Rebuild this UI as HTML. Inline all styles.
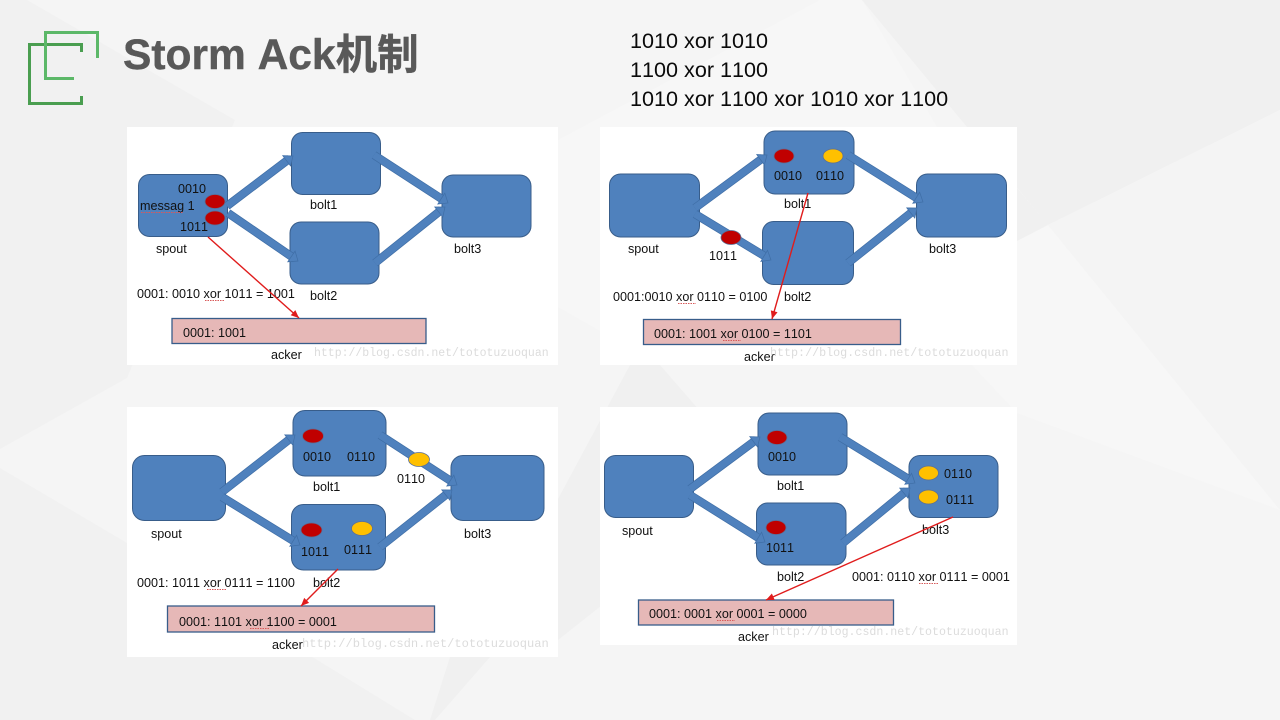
<!DOCTYPE html>
<html><head><meta charset="utf-8"><title>Storm Ack机制</title>
<style>
html,body{margin:0;padding:0;width:1280px;height:720px;overflow:hidden;background:#f5f5f5}
svg{display:block}
svg text{font-kerning:none}
.d{filter:blur(.3px)}
.d text{font:12.6px "Liberation Sans",sans-serif;fill:#111;font-kerning:none}
.d rect.n{fill:#4f81bd;stroke:#385d8a;stroke-width:1}
.d rect.a{fill:#e6b8b7;stroke:#385d8a;stroke-width:1.3}
.d .r{fill:#c00000;stroke:#5b6f96;stroke-width:.8}
.d .y{fill:#ffc000;stroke:#5b6f96;stroke-width:.8}
.d .o{stroke:#3f6ea6;stroke-width:8.4;stroke-dasharray:95 100}
.d .b{stroke:#4f81bd;stroke-width:7;stroke-dasharray:95 100;marker-end:url(#h)}
.d .l{stroke:#e01c1c;stroke-width:1.4;fill:none;marker-end:url(#rh)}
.d .s{stroke:#d85a5a;stroke-width:1;stroke-dasharray:1.5 1;fill:none}
.d text.w{font:11.600px "Liberation Mono",monospace;fill:#dcdcdc}
</style></head><body>
<svg width="1280" height="720" viewBox="0 0 1280 720" xmlns="http://www.w3.org/2000/svg">
<defs>
<marker id="h" markerUnits="userSpaceOnUse" markerWidth="20" markerHeight="20" refX="10" refY="10" orient="auto" overflow="visible">
<polygon points="2,3.500 10,10 2,16.500" fill="#4f81bd" stroke="#3f6ea6" stroke-width=".7"/>
</marker>
<marker id="rh" markerUnits="userSpaceOnUse" markerWidth="12" markerHeight="12" refX="9" refY="5" orient="auto" overflow="visible">
<polygon points="1,1.500 9,5 1,8.500" fill="#e01c1c"/>
</marker>
</defs>

<!-- background -->
<rect width="1280" height="720" fill="#f5f5f5"/>
<polygon points="0,0 27,0 235,120 127,378 0,449" fill="#f1f1f1"/>
<polygon points="0,468 127,543 415,720 0,720" fill="#f1f1f1"/>
<polygon points="820,0 862,0 937,127 1048,225 1280,510 1017,413 972,365 660,365 558,307 558,140" fill="#f7f7f7"/>
<polygon points="630,365 660,365 760,480 558,640 490,657 435,720 430,720 450,657 558,499" fill="#f0f0f0"/>
<polygon points="862,0 1280,0 1280,110 1048,225" fill="#f0f0f0"/>
<polygon points="1048,225 1280,110 1280,510" fill="#f4f4f4"/>
<polygon points="1017,188 1048,225 1017,241" fill="#f0f0f0"/>

<!-- logo -->
<g fill="none" stroke-linecap="butt">
<path d="M81.500,52 V44.500 H29.500 V103.500 H81.500 V96" stroke="#4a9e50" stroke-width="3"/>
<path d="M97.500,58 V32.500 H45.500 V78.500 H74" stroke="#5cb868" stroke-width="3"/>
</g>
<text x="123" y="69" font-family="'Liberation Sans','Noto Sans CJK SC',sans-serif" font-weight="700" font-size="42.500" fill="#595959" stroke="#595959" stroke-width=".4">Storm Ack<tspan font-size="41.500">机制</tspan></text>

<g font-family="'Liberation Sans',sans-serif" font-size="21.600" fill="#0a0a0a">
<text x="630" y="48">1010 xor 1010</text>
<text x="630" y="77">1100 xor 1100</text>
<text x="630" y="106">1010 xor 1100 xor 1010 xor 1100</text>
</g>

<!-- panel 1 -->
<g class="d">
<rect x="127" y="127" width="431" height="238" fill="#fff"/>
<rect class="n" x="138.500" y="174.500" width="89" height="62" rx="11"/>
<rect class="n" x="291.500" y="132.500" width="89" height="62" rx="11"/>
<rect class="n" x="290" y="222" width="89" height="62" rx="11"/>
<rect class="n" x="442" y="175" width="89" height="62" rx="11"/>
<line class="o" pathLength="100" x1="227" y1="206" x2="293" y2="156"/><line class="b" pathLength="100" x1="227" y1="206" x2="293" y2="156"/>
<line class="o" pathLength="100" x1="228" y1="213" x2="298" y2="261"/><line class="b" pathLength="100" x1="228" y1="213" x2="298" y2="261"/>
<line class="o" pathLength="100" x1="374" y1="155" x2="448" y2="203"/><line class="b" pathLength="100" x1="374" y1="155" x2="448" y2="203"/>
<line class="o" pathLength="100" x1="375" y1="263" x2="445" y2="207"/><line class="b" pathLength="100" x1="375" y1="263" x2="445" y2="207"/>
<ellipse class="r" cx="215" cy="201.500" rx="10" ry="7"/>
<ellipse class="r" cx="215" cy="218" rx="10" ry="7"/>
<text x="178" y="193">0010</text><text x="140" y="210">messag 1</text><text x="180" y="231">1011</text>
<path class="s" d="M141 212.500H183"/>
<text x="156" y="253">spout</text><text x="310" y="209">bolt1</text><text x="310" y="300">bolt2</text><text x="454" y="253">bolt3</text>
<text x="137" y="298">0001: 0010 xor 1011 = 1001</text>
<path class="s" d="M205 300.500H224"/>
<rect class="a" x="172" y="318.500" width="254" height="25"/>
<text x="183" y="337">0001: 1001</text>
<text x="271" y="359">acker</text>
<text class="w" x="314" y="356" style="font-size:11.500px">http://blog.csdn.net/tototuzuoquan</text>
<line class="l" x1="208" y1="237" x2="299" y2="318"/>
</g>

<!-- panel 2 -->
<g class="d">
<rect x="600" y="127" width="417" height="238" fill="#fff"/>
<rect class="n" x="609.500" y="174" width="90" height="63" rx="11"/>
<rect class="n" x="764" y="131" width="90" height="63" rx="11"/>
<rect class="n" x="762.500" y="221.500" width="91" height="63" rx="11"/>
<rect class="n" x="916.500" y="174" width="90" height="63" rx="11"/>
<line class="o" pathLength="100" x1="695" y1="208" x2="767" y2="155"/><line class="b" pathLength="100" x1="695" y1="208" x2="767" y2="155"/>
<line class="o" pathLength="100" x1="695" y1="214" x2="771" y2="260"/><line class="b" pathLength="100" x1="695" y1="214" x2="771" y2="260"/>
<line class="o" pathLength="100" x1="848" y1="155" x2="923" y2="202"/><line class="b" pathLength="100" x1="848" y1="155" x2="923" y2="202"/>
<line class="o" pathLength="100" x1="848" y1="263" x2="917" y2="208"/><line class="b" pathLength="100" x1="848" y1="263" x2="917" y2="208"/>
<ellipse class="r" cx="784" cy="156" rx="10" ry="7"/>
<ellipse class="y" cx="833" cy="156" rx="10" ry="7"/>
<ellipse class="r" cx="731" cy="237.500" rx="10" ry="7"/>
<text x="774" y="180">0010</text><text x="816" y="180">0110</text>
<text x="709" y="260">1011</text><text x="628" y="253">spout</text>
<text x="784" y="208">bolt1</text><text x="784" y="301">bolt2</text><text x="929" y="253">bolt3</text>
<text x="613" y="301">0001:0010 xor 0110 = 0100</text>
<path class="s" d="M678 303.500H696"/>
<rect class="a" x="643.500" y="319.500" width="257" height="25"/>
<text x="654" y="338">0001: 1001 xor 0100 = 1101</text>
<path class="s" d="M723 340.500H741"/>
<text x="744" y="361">acker</text>
<text class="w" x="770" y="356" style="font-size:11.700px">http://blog.csdn.net/tototuzuoquan</text>
<line class="l" x1="808" y1="193" x2="772" y2="319"/>
</g>

<!-- panel 3 -->
<g class="d">
<rect x="127" y="407" width="431" height="250" fill="#fff"/>
<rect class="n" x="132.500" y="455.500" width="93" height="65" rx="12"/>
<rect class="n" x="293" y="410.500" width="93" height="65.500" rx="12"/>
<rect class="n" x="291.500" y="504.500" width="94" height="65.500" rx="12"/>
<rect class="n" x="451" y="455.500" width="93" height="65" rx="12"/>
<line class="o" pathLength="100" x1="222" y1="492" x2="295" y2="435"/><line class="b" pathLength="100" x1="222" y1="492" x2="295" y2="435"/>
<line class="o" pathLength="100" x1="222" y1="497" x2="300" y2="545"/><line class="b" pathLength="100" x1="222" y1="497" x2="300" y2="545"/>
<line class="o" pathLength="100" x1="380" y1="435" x2="457" y2="485"/><line class="b" pathLength="100" x1="380" y1="435" x2="457" y2="485"/>
<line class="o" pathLength="100" x1="380" y1="547" x2="452" y2="490"/><line class="b" pathLength="100" x1="380" y1="547" x2="452" y2="490"/>
<ellipse class="r" cx="313" cy="436" rx="10.500" ry="7"/>
<ellipse class="y" cx="419" cy="459.500" rx="10.500" ry="7"/>
<ellipse class="r" cx="311.500" cy="530" rx="10.500" ry="7"/>
<ellipse class="y" cx="362" cy="528.500" rx="10.500" ry="7"/>
<text x="303" y="461">0010</text><text x="347" y="461">0110</text><text x="397" y="483">0110</text>
<text x="301" y="556">1011</text><text x="344" y="554">0111</text>
<text x="313" y="491">bolt1</text><text x="151" y="538">spout</text><text x="464" y="538">bolt3</text><text x="313" y="587">bolt2</text>
<text x="137" y="587">0001: 1011 xor 0111 = 1100</text>
<path class="s" d="M207 589.500H227"/>
<rect class="a" x="167.500" y="606" width="267" height="26"/>
<text x="179" y="626">0001: 1101 xor 1100 = 0001</text>
<path class="s" d="M250 628.500H269"/>
<text x="272" y="649">acker</text>
<text class="w" x="302" y="647" style="font-size:12.100px">http://blog.csdn.net/tototuzuoquan</text>
<line class="l" x1="338" y1="569" x2="301" y2="606"/>
</g>

<!-- panel 4 -->
<g class="d">
<rect x="600" y="407" width="417" height="238" fill="#fff"/>
<rect class="n" x="604.500" y="455.500" width="89" height="62" rx="11"/>
<rect class="n" x="758" y="413" width="89" height="62" rx="11"/>
<rect class="n" x="756.500" y="503" width="89.500" height="62" rx="11"/>
<rect class="n" x="909" y="455.500" width="89" height="62" rx="11"/>
<line class="o" pathLength="100" x1="690" y1="489" x2="760" y2="437"/><line class="b" pathLength="100" x1="690" y1="489" x2="760" y2="437"/>
<line class="o" pathLength="100" x1="690" y1="495" x2="765" y2="542"/><line class="b" pathLength="100" x1="690" y1="495" x2="765" y2="542"/>
<line class="o" pathLength="100" x1="840" y1="437" x2="915" y2="483"/><line class="b" pathLength="100" x1="840" y1="437" x2="915" y2="483"/>
<line class="o" pathLength="100" x1="843" y1="543" x2="910" y2="488"/><line class="b" pathLength="100" x1="843" y1="543" x2="910" y2="488"/>
<ellipse class="r" cx="777" cy="437.500" rx="10" ry="7"/>
<ellipse class="r" cx="776" cy="527.500" rx="10" ry="7"/>
<ellipse class="y" cx="928.500" cy="473" rx="10" ry="7"/>
<ellipse class="y" cx="928.500" cy="497" rx="10" ry="7"/>
<text x="768" y="461">0010</text><text x="766" y="552">1011</text>
<text x="944" y="478">0110</text><text x="946" y="504">0111</text>
<text x="777" y="490">bolt1</text><text x="777" y="581">bolt2</text><text x="922" y="534">bolt3</text><text x="622" y="535">spout</text>
<text x="852" y="581">0001: 0110 xor 0111 = 0001</text>
<path class="s" d="M919 583.500H938"/>
<rect class="a" x="638.500" y="600" width="255" height="25"/>
<text x="649" y="618">0001: 0001 xor 0001 = 0000</text>
<path class="s" d="M717 620.500H735"/>
<text x="738" y="641">acker</text>
<text class="w" x="772" y="635">http://blog.csdn.net/tototuzuoquan</text>
<line class="l" x1="953" y1="517" x2="766" y2="600"/>
</g>
</svg>
</body></html>
